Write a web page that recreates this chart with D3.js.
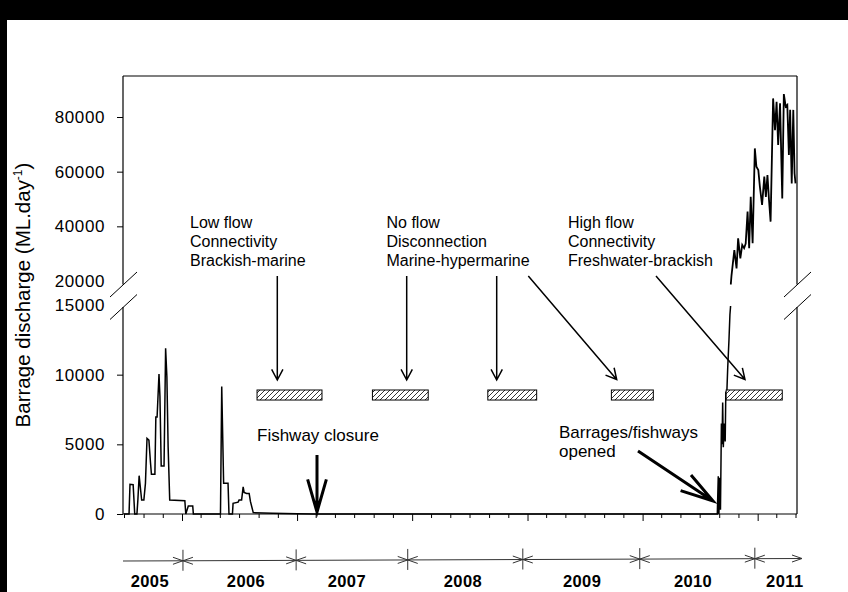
<!DOCTYPE html>
<html>
<head>
<meta charset="utf-8">
<script src="https://cdn.jsdelivr.net/npm/d3@7"></script>
<style>
  body { margin: 0; background: #fff; }
  svg { display: block; font-family: "Liberation Sans", Arial, sans-serif; }
</style>
</head>
<body>
<div id="container"></div>
<script>

// barrage discharge (ML/day)
const flowDates = [
    "2005-07-01", "2005-07-17", "2005-07-20", "2005-07-30", "2005-08-04", "2005-08-11",
    "2005-08-14", "2005-08-18", "2005-08-26", "2005-09-02", "2005-09-07", "2005-09-12",
    "2005-09-18", "2005-09-23", "2005-09-26", "2005-10-07", "2005-10-10", "2005-10-14",
    "2005-10-20", "2005-10-23", "2005-10-27", "2005-11-05", "2005-11-10", "2005-11-14",
    "2005-11-18", "2005-11-23", "2006-01-10", "2006-01-13", "2006-01-21", "2006-02-04", "2006-02-06",
    "2006-05-03", "2006-05-07", "2006-05-13", "2006-05-27", "2006-05-30",
    "2006-06-10", "2006-06-12", "2006-06-28", "2006-07-01", "2006-07-09", "2006-07-14",
    "2006-07-17", "2006-07-25", "2006-08-02", "2006-08-06", "2006-08-15", "2006-10-15",
    "2007-01-01", "2007-02-20",
    "2010-08-26", "2010-08-29", "2010-08-31", "2010-09-03", "2010-09-05", "2010-09-08",
    "2010-09-10", "2010-09-12", "2010-09-14", "2010-09-17", "2010-09-20", "2010-09-22",
    "2010-09-25", "2010-09-28", "2010-10-02", "2010-10-05", "2010-10-07", "2010-10-08",
    "2010-10-10", "2010-10-19", "2010-10-26", "2010-10-31", "2010-11-07", "2010-11-13",
    "2010-11-19", "2010-11-24", "2010-11-30", "2010-12-05", "2010-12-10", "2010-12-16",
    "2010-12-23", "2010-12-28", "2011-01-03", "2011-01-08", "2011-01-15", "2011-01-22",
    "2011-01-27", "2011-02-01", "2011-02-06", "2011-02-11", "2011-02-19", "2011-02-25",
    "2011-03-02", "2011-03-07", "2011-03-13", "2011-03-20", "2011-03-25", "2011-03-31",
    "2011-04-05", "2011-04-10", "2011-04-14", "2011-04-19", "2011-04-24", "2011-04-28", "2011-05-01"
];
const flowValues = [
    0, 0, 2130, 2100, 0, 0,
    1000, 2750, 1000, 1000, 2200, 5430,
    5300, 3700, 2850, 2850, 6970, 6970,
    10050, 8450, 3450, 3450, 11900, 9870,
    4800, 1000, 950, 0, 580, 580, 0,
    0, 9150, 2200, 2200, 0,
    0, 770, 850, 1000, 1000, 1950,
    1550, 1480, 1480, 900, 100, 50,
    20, 0,
    0, 2700, 0, 2600, 300, 6500,
    5000, 8000, 4800, 6500, 5200, 8800,
    8600, 10500, 12500, 14300, 14900, 19500,
    22000, 31300, 24600, 35600, 28300, 33200,
    32000, 33700, 45400, 32000, 50800, 33800,
    68500, 61800, 60600, 54500, 47800, 58200,
    50800, 58800, 49600, 41700, 86800, 75200,
    85600, 69800, 85000, 50200, 88400, 83800,
    84400, 66100, 82600, 55700, 82600, 59400, 55700
];

// sampling periods (hatched bars)
const sampleStart = ["2006-08-27", "2007-08-28", "2008-08-28", "2009-09-24", "2010-09-23"];
const sampleEnd = ["2007-03-21", "2008-02-21", "2009-01-30", "2010-02-04", "2011-03-20"];

// year timeline under the axis
const yearBreaks = ["2006-01-04", "2006-12-29", "2007-12-18", "2008-12-17", "2009-12-23", "2010-12-23"];
const yearLabels = ["2005", "2006", "2007", "2008", "2009", "2010", "2011"];
const yearLabelDates = ["2005-09-21", "2006-07-23", "2007-06-08", "2008-06-10", "2009-06-23", "2010-06-10", "2011-03-28"];

// y tick labels, either side of the axis break
const lowTicks = [0, 5000, 10000, 15000];
const highTicks = [20000, 40000, 60000, 80000];

const W = 848, H = 592;
const frame = { left: 123, right: 797, top: 76, bottom: 514 };
const brk = { upper: 284.5, lower: 307 };   // ends of the two axis pieces

const parseDate = d3.timeParse("%Y-%m-%d");

const svg = d3.select("#container")
    .append("svg")
    .attr("width", W)
    .attr("height", H);

svg.append("rect").attr("width", W).attr("height", H).attr("fill", "#fff");
// dark scan edges of the original figure
svg.append("rect").attr("x", 0).attr("y", 0).attr("width", W).attr("height", 20).attr("fill", "#000");
svg.append("rect").attr("x", 0).attr("y", 0).attr("width", 7).attr("height", H).attr("fill", "#000");

const defs = svg.append("defs");
defs.append("pattern")
    .attr("id", "hatch")
    .attr("patternUnits", "userSpaceOnUse")
    .attr("width", 5)
    .attr("height", 5)
    .append("path")
    .attr("d", "M-1,1 l2,-2 M0,5 l5,-5 M4,6 l2,-2")
    .attr("stroke", "#000")
    .attr("stroke-width", 0.8);

defs.append("clipPath").attr("id", "clipHigh")
    .append("rect").attr("x", 0).attr("y", 40).attr("width", W).attr("height", brk.upper - 40);
defs.append("clipPath").attr("id", "clipLow")
    .append("rect").attr("x", 0).attr("y", brk.lower - 1).attr("width", W).attr("height", 240);

// scales
const x = d3.scaleTime()
    .domain([parseDate("2005-07-01"), parseDate("2011-05-01")])
    .range([124, 795.5]);

const yLow = d3.scaleLinear().domain([0, 15000]).range([514, 305]);
const yHigh = d3.scaleLinear().domain([20000, 95000]).range([281, 76]);
// piecewise scale for the broken axis
const yAll = d3.scaleLinear()
    .domain([0, 15000, 20000, 95000])
    .range([514, 305, 281, 76]);

const g = svg.append("g");

// Y axes
function styleAxis(sel) {
    sel.select(".domain").remove();
    sel.selectAll("text")
        .attr("font-family", "'Liberation Sans', Arial, sans-serif")
        .attr("font-size", 17)
        .attr("letter-spacing", "0.6px")
        .attr("fill", "#000");
    sel.selectAll("line").attr("stroke", "#000");
}

g.append("g")
    .attr("transform", `translate(${frame.left},0)`)
    .call(d3.axisLeft(yLow).tickValues(lowTicks).tickSize(6).tickPadding(12).tickFormat(d3.format("d")))
    .call(styleAxis)
    .selectAll(".tick")
    .filter(d => d === 15000)
    .select("line").remove();

g.append("g")
    .attr("transform", `translate(${frame.left},0)`)
    .call(d3.axisLeft(yHigh).tickValues(highTicks).tickSize(6).tickPadding(12).tickFormat(d3.format("d")))
    .call(styleAxis)
    .selectAll(".tick")
    .filter(d => d === 20000)
    .select("line").remove();

// X axis: ticks every two months, longer at January
const monthTicks = d3.timeMonth.every(2).range(x.domain()[0], d3.timeDay.offset(x.domain()[1], 1));
g.append("g")
    .attr("transform", `translate(0,${frame.bottom})`)
    .call(d3.axisBottom(x).tickValues(monthTicks.filter(d => d.getMonth() !== 0)).tickSize(4).tickFormat(""))
    .call(styleAxis);
g.append("g")
    .attr("transform", `translate(0,${frame.bottom})`)
    .call(d3.axisBottom(x).tickValues(monthTicks.filter(d => d.getMonth() === 0)).tickSize(7).tickFormat(""))
    .call(styleAxis);

// frame with the broken sides
const frameLines = [
    [frame.left, frame.top, frame.right, frame.top],
    [frame.left, frame.bottom, frame.right, frame.bottom],
    [frame.left, frame.top, frame.left, brk.upper],
    [frame.left, brk.lower, frame.left, frame.bottom],
    [frame.right, frame.top, frame.right, brk.upper],
    [frame.right, brk.lower, frame.right, frame.bottom]
];
g.selectAll(".frame")
    .data(frameLines)
    .enter()
    .append("line")
    .attr("x1", d => d[0]).attr("y1", d => d[1])
    .attr("x2", d => d[2]).attr("y2", d => d[3])
    .attr("stroke", "#000")
    .attr("stroke-width", 1.2);

// break marks
[frame.left, frame.right].forEach(bx => {
    [brk.upper, brk.lower].forEach(by => {
        g.append("line")
            .attr("x1", bx - 13).attr("y1", by + 12.5)
            .attr("x2", bx + 14).attr("y2", by - 12.5)
            .attr("stroke", "#000")
            .attr("stroke-width", 1);
    });
});

// discharge line, drawn once per axis piece
const flow = flowDates.map((d, i) => ({ date: parseDate(d), value: flowValues[i] }));
const line = d3.line()
    .x(d => x(d.date))
    .y(d => yAll(d.value));

["clipHigh", "clipLow"].forEach(id => {
    g.append("path")
        .datum(flow)
        .attr("clip-path", `url(#${id})`)
        .attr("d", line)
        .attr("fill", "none")
        .attr("stroke", "#000")
        .attr("stroke-width", id === "clipHigh" ? 1.8 : 1.5)
        .attr("stroke-linejoin", "miter");
});

// hatched sampling bars
const bars = sampleStart.map((s, i) => ({ start: parseDate(s), end: parseDate(sampleEnd[i]) }));
const barNodes = g.selectAll(".bar")
    .data(bars)
    .enter()
    .append("g")
    .classed("bar", true);
barNodes.append("rect")
    .attr("x", d => x(d.start))
    .attr("y", yLow(8900))
    .attr("width", d => x(d.end) - x(d.start))
    .attr("height", yLow(8180) - yLow(8900))
    .attr("fill", "#fff");
barNodes.append("rect")
    .attr("x", d => x(d.start))
    .attr("y", yLow(8900))
    .attr("width", d => x(d.end) - x(d.start))
    .attr("height", yLow(8180) - yLow(8900))
    .attr("fill", "url(#hatch)")
    .attr("stroke", "#000")
    .attr("stroke-width", 1);

// annotations
function arrow(x1, y1, x2, y2, head, spread, width) {
    const a = Math.atan2(y2 - y1, x2 - x1);
    const s = spread * Math.PI / 180;
    const p = d3.path();
    p.moveTo(x1, y1);
    p.lineTo(x2, y2);
    p.moveTo(x2 - head * Math.cos(a - s), y2 - head * Math.sin(a - s));
    p.lineTo(x2, y2);
    p.lineTo(x2 - head * Math.cos(a + s), y2 - head * Math.sin(a + s));
    g.append("path")
        .attr("d", p.toString())
        .attr("fill", "none")
        .attr("stroke", "#000")
        .attr("stroke-width", width);
}

const blocks = [
    { x: 190, lines: ["Low flow", "Connectivity", "Brackish-marine"] },
    { x: 386.5, lines: ["No flow", "Disconnection", "Marine-hypermarine"] },
    { x: 568, lines: ["High flow", "Connectivity", "Freshwater-brackish"] }
];
blocks.forEach(b => {
    b.lines.forEach((t, i) => {
        g.append("text")
            .attr("x", b.x)
            .attr("y", 228 + i * 19.2)
            .attr("font-size", 16)
            .attr("fill", "#000")
            .text(t);
    });
});

arrow(277.3, 276, 277.3, 380, 12, 28, 1.5);
arrow(406.7, 276, 406.7, 380, 12, 28, 1.5);
arrow(496.7, 276, 496.7, 380, 12, 28, 1.5);
arrow(528.3, 276, 616.7, 379.5, 12, 28, 1.5);
arrow(656, 276, 745, 379.5, 12, 28, 1.5);

g.append("text")
    .attr("x", 257).attr("y", 441)
    .attr("font-size", 17)
    .attr("fill", "#000")
    .text("Fishway closure");
arrow(317, 455, 317, 512, 34, 16, 3);

g.append("text")
    .attr("x", 559).attr("y", 438)
    .attr("font-size", 17)
    .attr("fill", "#000")
    .text("Barrages/fishways");
g.append("text")
    .attr("x", 559).attr("y", 457)
    .attr("font-size", 17)
    .attr("fill", "#000")
    .text("opened");
arrow(638, 451, 713, 501, 34, 16, 3);

// y axis title
const title = g.append("text")
    .attr("transform", "translate(30,295) rotate(-90)")
    .attr("text-anchor", "middle")
    .attr("font-size", 20.5)
    .attr("fill", "#000");
title.append("tspan").text("Barrage discharge (ML.day");
title.append("tspan").attr("font-size", 12).attr("dy", -8).text("-1");
title.append("tspan").attr("dy", 8).text(")");

// timeline of years
const tlStart = 123, tlEnd = 802;
const tlY = px => 561 - (px - tlStart) / (tlEnd - tlStart) * 2.5;
const stops = [tlStart].concat(yearBreaks.map(d => x(parseDate(d)))).concat([tlEnd]);

const tl = svg.append("g").attr("stroke", "#333").attr("stroke-width", 1).attr("fill", "none");
tl.append("line")
    .attr("x1", tlStart).attr("y1", tlY(tlStart))
    .attr("x2", tlEnd).attr("y2", tlY(tlEnd));

function headTo(px, dir) {
    const y0 = tlY(px);
    tl.append("path")
        .attr("d", `M${px - dir * 10},${y0 - 3.5} L${px},${y0} L${px - dir * 10},${y0 + 3.5}`);
}
stops.slice(1).forEach(px => headTo(px, 1));
stops.slice(1, -1).forEach(px => {
    headTo(px, -1);
    tl.append("line")
        .attr("x1", px).attr("y1", tlY(px) - 11)
        .attr("x2", px).attr("y2", tlY(px) + 10);
});

svg.selectAll(".year")
    .data(yearLabels)
    .enter()
    .append("text")
    .attr("x", (d, i) => x(parseDate(yearLabelDates[i])))
    .attr("y", 587)
    .attr("text-anchor", "middle")
    .attr("font-size", 16.5)
    .attr("font-weight", "bold")
    .attr("letter-spacing", "0.4px")
    .attr("fill", "#000")
    .text(d => d);

</script>
</body>
</html>
